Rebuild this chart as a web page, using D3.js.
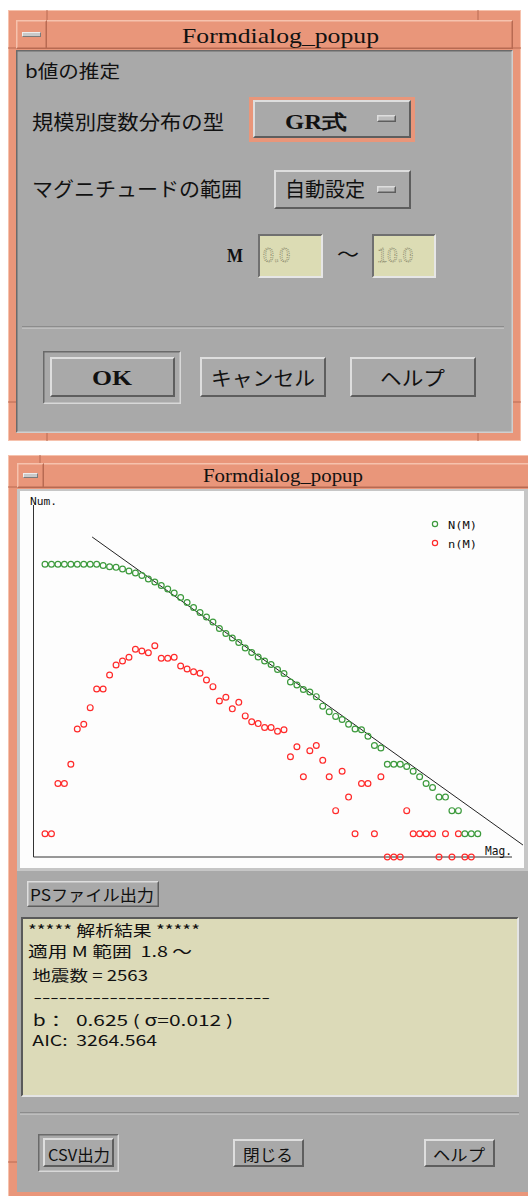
<!DOCTYPE html>
<html><head><meta charset="utf-8">
<script src="https://cdn.jsdelivr.net/npm/d3@7/dist/d3.min.js"></script>
<style>html,body{margin:0;padding:0;background:#fff;}svg{display:block;} text{white-space:pre;}</style>
</head><body>
<script>
// ---- data ----
const magBins = [0.0,0.1,0.2,0.3,0.4,0.5,0.6,0.7,0.8,0.9,1.0,1.1,1.2,1.3,1.4,1.5,1.6,1.7,1.8,1.9,
  2.0,2.1,2.2,2.3,2.4,2.5,2.6,2.7,2.8,2.9,3.0,3.1,3.2,3.3,3.4,3.5,3.6,3.7,3.8,3.9,
  4.0,4.1,4.2,4.3,4.4,4.5,4.6,4.7,4.8,4.9,5.0,5.1,5.2,5.3,5.4,5.5,5.6,5.7,5.8,5.9,
  6.0,6.1,6.2,6.3,6.4,6.5,6.6,6.7];
const cumCounts = [6330,6330,6330,6330,6330,6330,6330,6330,6330,6100,5890,5780,5500,5180,4880,4530,4080,3725,3355,3025,
  2685,2345,2020,1740,1497,1308,1127,929,800,699,611,518,453,396,351,316,272,242,187,171,
  150,139,121,91,77,67,61,53,46,45,37,28,26,16,16,16,15,13,11,9,
  8,6,6,4,4,2,2,2];
const binCounts = [2,2,9,9,16,46,53,87,152,152,231,312,351,392,498,473,450,555,381,381,
  392,303,276,255,243,199,163,106,119,84,102,68,57,54,48,48,43,45,20,27,
  11,24,28,18,11,4,13,6,2,9,9,2,11,1,1,1,4,2,2,2,
  2,1,2,1,2,1,1];
const fitM = [0.73, 7.40];
const fitN = [14320, 1.43];
const seriesNames = ["N(M)", "n(M)"];
const resultLines = ["***** 解析結果 *****", "適用 M 範囲  1.8 ～", " 地震数 = 2563",
  " ----------------------------", " b：  0.625 ( σ=0.012 )", " AIC:  3264.564"];

// ---- styles ----
const SALMON = "#e9967a", SAL_L = "#f6c2ad", SAL_D = "#b86a52";
const GRAY = "#a9a9a9", LIGHT = "#dedede", DARK = "#5e5e5e";
const JP = "'Noto Sans CJK JP', 'Noto Sans', sans-serif";
const SERIF = "'Liberation Serif', 'DejaVu Serif', serif";
const MONO = "'DejaVu Sans Mono', 'Liberation Mono', monospace";

const svg = d3.select("body").append("svg").attr("width", 528).attr("height", 1196);

function bevel(g, x, y, w, h, raised, bw, fill, lc, dc) {
  lc = lc || LIGHT; dc = dc || DARK;
  if (fill) g.append("rect").attr("x", x).attr("y", y).attr("width", w).attr("height", h).attr("fill", fill);
  const tl = raised ? lc : dc, br = raised ? dc : lc;
  g.append("path").attr("fill", tl)
    .attr("d", `M${x},${y}H${x+w}L${x+w-bw},${y+bw}H${x+bw}V${y+h-bw}L${x},${y+h}Z`);
  g.append("path").attr("fill", br)
    .attr("d", `M${x+w},${y+h}H${x}L${x+bw},${y+h-bw}H${x+w-bw}V${y+bw}L${x+w},${y}Z`);
}
function text(g, s, x, y, size, opts) {
  opts = opts || {};
  const t = g.append("text").attr("x", x).attr("y", y).text(s)
    .attr("xml:space", "preserve")
    .attr("font-family", opts.family || JP).attr("font-size", size)
    .attr("fill", opts.fill || "#111");
  if (opts.weight) t.attr("font-weight", opts.weight);
  if (opts.len) t.attr("textLength", opts.len).attr("lengthAdjust", "spacingAndGlyphs");
  if (opts.anchor) t.attr("text-anchor", opts.anchor);
  return t;
}
function frame(g, x, y, w, h) {
  g.append("rect").attr("x", x).attr("y", y).attr("width", w).attr("height", h).attr("fill", SALMON);
  g.append("rect").attr("x", x + 0.5).attr("y", y + 0.5).attr("width", w - 1).attr("height", h - 1)
    .attr("fill", "none").attr("stroke", SAL_L);
}
function titleBar(g, x, y, w, h, title, tx, tlen, tsize, tb) {
  bevel(g, x, y, w, h, true, 1.5, SALMON, SAL_L, SAL_D);
  bevel(g, x, y, h + 2, h, true, 1.5, SALMON, SAL_L, SAL_D);
  bevel(g, x + 6, y + h / 2 - 2.5, h - 10, 5, true, 1, "#c9c9c9", "#eeeeee", "#7a7a7a");
  text(g, title, tx, tb, tsize, { family: SERIF, len: tlen });
}

// ================= Dialog 1 =================
const d1 = svg.append("g");
frame(d1, 8, 10, 513, 431);
d1.append("g").attr("stroke", SAL_D).attr("stroke-width", 1)
  .selectAll("line").data([[47,10,47,20],[478,10,478,20],[47,433,47,441],[478,433,478,441],[8,48,16,48],[8,402,16,402],[513,48,521,48],[513,402,521,402]])
  .join("line").attr("x1", d => d[0]).attr("y1", d => d[1]).attr("x2", d => d[2]).attr("y2", d => d[3]);
titleBar(d1, 16, 20, 497, 29, "Formdialog_popup", 182, 197, 22, 43);
d1.append("rect").attr("x", 16).attr("y", 50).attr("width", 497).attr("height", 383).attr("fill", GRAY);
bevel(d1, 16, 50, 497, 383, false, 1.5, null, "#cfcfcf", "#6a6a6a");

text(d1, "b値の推定", 25, 78, 18, { len: 95 });
text(d1, "規模別度数分布の型", 32, 130, 20, { len: 192 });
d1.append("rect").attr("x", 249).attr("y", 97).attr("width", 166).attr("height", 45).attr("fill", SALMON);
bevel(d1, 253, 100, 158, 38, true, 2, GRAY);
text(d1, "GR式", 285, 129, 20, { family: SERIF, weight: "bold", len: 62 });
bevel(d1, 377, 115, 19, 7, true, 1.5, "#bcbcbc");

text(d1, "マグニチュードの範囲", 32, 197, 20, { len: 210 });
bevel(d1, 274, 170, 137, 39, true, 2, GRAY);
text(d1, "自動設定", 285, 197, 20, { len: 80 });
bevel(d1, 377, 186, 19, 7, true, 1.5, "#bcbcbc");

text(d1, "M", 227, 262, 19, { family: SERIF, weight: "bold", len: 16 });
bevel(d1, 258, 234, 65, 44, false, 2, "#dcdcb4", "#e6e6e6", "#707070");
bevel(d1, 372, 234, 64, 44, false, 2, "#dcdcb4", "#e6e6e6", "#707070");
text(d1, "0.0", 263, 262, 20, { family: SERIF, fill: "none", len: 27 }).attr("stroke", "#8c8c70").attr("stroke-width", 0.9).attr("stroke-dasharray", "1,1");
text(d1, "10.0", 377, 262, 20, { family: SERIF, fill: "none", len: 36 }).attr("stroke", "#8c8c70").attr("stroke-width", 0.9).attr("stroke-dasharray", "1,1");
text(d1, "～", 337, 262, 20, { len: 22 });

d1.append("line").attr("x1", 22).attr("x2", 504).attr("y1", 327).attr("y2", 327).attr("stroke", "#6e6e6e");
d1.append("line").attr("x1", 22).attr("x2", 504).attr("y1", 328).attr("y2", 328).attr("stroke", "#d4d4d4");

bevel(d1, 43, 351, 138, 53, false, 1.5, null, "#d8d8d8", "#6a6a6a");
bevel(d1, 50, 357, 125, 40, true, 2, GRAY);
text(d1, "OK", 92, 385, 21, { family: SERIF, weight: "bold", len: 40 });
bevel(d1, 200, 357, 126, 40, true, 2, GRAY);
text(d1, "キャンセル", 211, 386, 20, { len: 104 });
bevel(d1, 350, 357, 126, 40, true, 2, GRAY);
text(d1, "ヘルプ", 380, 386, 20, { len: 65 });

// ================= Dialog 2 =================
const d2 = svg.append("g");
frame(d2, 8, 455, 530, 750);
d2.append("g").attr("stroke", SAL_D).attr("stroke-width", 1)
  .selectAll("line").data([[40,455,40,463],[8,487,17,487],[8,1162,17,1162]])
  .join("line").attr("x1", d => d[0]).attr("y1", d => d[1]).attr("x2", d => d[2]).attr("y2", d => d[3]);
titleBar(d2, 17, 463, 515, 25, "Formdialog_popup", 203, 160, 19, 482);
d2.append("rect").attr("x", 17).attr("y", 489).attr("width", 515).attr("height", 703).attr("fill", GRAY);

d2.append("rect").attr("x", 17).attr("y", 489).attr("width", 515).attr("height", 382).attr("fill", "#c6c6c6");
d2.append("rect").attr("x", 20).attr("y", 491).attr("width", 504).attr("height", 377).attr("fill", "#fdfdfd");

const x = d3.scaleLinear().domain([-0.178, 7.23]).range([33.5, 512]);
const y = d3.scaleLog().domain([1, 10000]).range([857, 549]);
const plot = d2.append("g");
plot.append("line").attr("x1", x(-0.178)).attr("x2", x(-0.178)).attr("y1", y(1)).attr("y2", 505)
  .attr("stroke", "#333").attr("stroke-width", 1);
plot.append("line").attr("x1", x(-0.178)).attr("x2", x(7.23)).attr("y1", y(1)).attr("y2", y(1))
  .attr("stroke", "#333").attr("stroke-width", 1);
text(plot, "Num.", 30, 505, 11, { family: MONO, len: 27 });
text(plot, "Mag.", 485, 855, 12, { family: MONO, len: 27 });

plot.append("path").datum(fitM.map((m, i) => [m, fitN[i]]))
  .attr("d", d3.line().x(d => x(d[0])).y(d => y(d[1])))
  .attr("stroke", "#222").attr("stroke-width", 1).attr("fill", "none");

const GREEN = "#3c9a3c", RED = "#ff2a2a", R = 2.9;
plot.append("g").selectAll("circle").data(binCounts.map((c, i) => [magBins[i], c]))
  .join("circle").attr("cx", d => x(d[0])).attr("cy", d => y(d[1])).attr("r", R)
  .attr("fill", "none").attr("stroke", RED).attr("stroke-width", 1.2);
plot.append("g").selectAll("circle").data(cumCounts.map((c, i) => [magBins[i], c]))
  .join("circle").attr("cx", d => x(d[0])).attr("cy", d => y(d[1])).attr("r", R)
  .attr("fill", "none").attr("stroke", GREEN).attr("stroke-width", 1.2);

const leg = plot.append("g");
[GREEN, RED].forEach((c, i) => {
  leg.append("circle").attr("cx", 435).attr("cy", 524 + i * 19).attr("r", 2.6)
    .attr("fill", "none").attr("stroke", c).attr("stroke-width", 1.2);
  text(leg, seriesNames[i], 448, 529 + i * 19, 11, { family: MONO, len: 29 });
});

bevel(d2, 27, 881, 132, 26, true, 1.5, GRAY);
text(d2, "PSファイル出力", 30, 901, 16, { len: 124 });

bevel(d2, 21, 917, 498, 180, false, 2, "#dcdab8", "#e4e4e4", "#5a5a5a");
const lineLens = [172, 164, 113, 235, 198, 122];
const lineYs = [936, 957, 981, 1003, 1026, 1046];
resultLines.forEach((s, i) => {
  text(d2, s, 28, lineYs[i], 15, { len: lineLens[i] + (s.startsWith(" ") ? 7 : 0) });
});

d2.append("line").attr("x1", 20).attr("x2", 519).attr("y1", 1113).attr("y2", 1113).attr("stroke", "#6e6e6e");
d2.append("line").attr("x1", 20).attr("x2", 519).attr("y1", 1114).attr("y2", 1114).attr("stroke", "#d4d4d4");

bevel(d2, 38, 1134, 81, 38, false, 1.5, null, "#d8d8d8", "#6a6a6a");
bevel(d2, 43, 1138, 71, 29, true, 2, GRAY);
text(d2, "CSV出力", 48, 1161, 16, { len: 62 });
bevel(d2, 233, 1139, 71, 28, true, 2, GRAY);
text(d2, "閉じる", 243, 1161, 16, { len: 50 });
bevel(d2, 424, 1139, 71, 28, true, 2, GRAY);
text(d2, "ヘルプ", 433, 1161, 16, { len: 52 });
</script>
</body></html>
